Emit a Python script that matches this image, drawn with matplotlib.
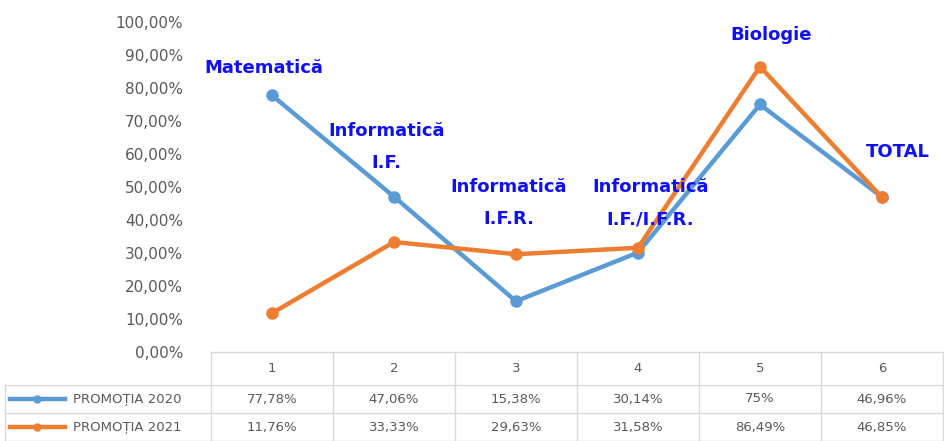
import matplotlib.pyplot as plt
import numpy as np

categories = [1, 2, 3, 4, 5, 6]
promotia_2020 = [77.78, 47.06, 15.38, 30.14, 75.00, 46.96]
promotia_2021 = [11.76, 33.33, 29.63, 31.58, 86.49, 46.85]
labels_2020 = ["77,78%", "47,06%", "15,38%", "30,14%", "75%", "46,96%"]
labels_2021 = ["11,76%", "33,33%", "29,63%", "31,58%", "86,49%", "46,85%"]
series_names = ["PROMOȚIA 2020", "PROMOȚIA 2021"]
subjects = ["Matematică", "Informatică\nI.F.", "Informatică\nI.F.R.",
            "Informatică\nI.F./I.F.R.", "Biologie", "TOTAL"]
# label placement (category offset, height in %)
subject_dx = [-0.07, -0.06, -0.06, 0.10, 0.09, 0.13]
subject_y = [86, 62, 45, 45, 96, 60.5]

blue = "#5B9BD5"
orange = "#ED7D31"
grey = "#595959"
line_c = "#D9D9D9"

plt.rcParams['font.family'] = ['Liberation Sans Narrow', 'DejaVu Sans']

W, H = 945, 441
fig = plt.figure(figsize=(W / 100, H / 100), dpi=100)

# plot area: x 211..943 px, y 22..352 px
ax = fig.add_axes([211 / W, (H - 352) / H, 732 / W, 330 / H])
x = np.array(categories)
ax.plot(x, promotia_2020, color=blue, lw=3.2, marker="o", ms=8, solid_capstyle="round")
ax.plot(x, promotia_2021, color=orange, lw=3.2, marker="o", ms=8, solid_capstyle="round")
for xi, dx, txt, yi in zip(x, subject_dx, subjects, subject_y):
    ax.text(xi + dx, yi, txt, color="#1010F0", fontweight="bold", fontsize=13,
            ha="center", va="center", linespacing=2.0, family="DejaVu Sans")
ax.set_xlim(0.5, 6.5)
ax.set_ylim(0, 100)
ax.set_yticks(np.arange(0, 101, 10))
ax.set_yticklabels([f"{v},00%" for v in range(0, 101, 10)], color=grey, fontsize=11)
ax.tick_params(axis="y", length=0, pad=20)
ax.set_xticks([])
for s in ax.spines.values():
    s.set_visible(False)

# data table below: rows at 352..385, 385..413, 413..441 px
tab = fig.add_axes([211 / W, 0, 732 / W, 89 / H])
tab.set_xlim(0.5, 6.5)
tab.set_ylim(89, 0)
tab.axis("off")
left = 0.5 - 206 / 122
tab.plot([0.5, 6.5], [0, 0], color=line_c, lw=1, clip_on=False)
for yb in (33, 61, 88.5):
    tab.plot([left, 6.5], [yb, yb], color=line_c, lw=1, clip_on=False)
tab.plot([0.5, 0.5], [0, 89], color=line_c, lw=1, clip_on=False)
tab.plot([left, left], [33, 89], color=line_c, lw=1, clip_on=False)
for xb in np.arange(1.5, 7, 1):
    tab.plot([xb, xb], [0, 89], color=line_c, lw=1, clip_on=False)
for xi in x:
    tab.text(xi, 17, str(xi), ha="center", va="center", color=grey, fontsize=9.5)
for row_y, vals, name, col in ((47, labels_2020, series_names[0], blue),
                              (75, labels_2021, series_names[1], orange)):
    for xi, v in zip(x, vals):
        tab.text(xi, row_y, v, ha="center", va="center", color=grey, fontsize=9.5)
    kx = left + 5 / 122
    tab.plot([kx, kx + 55 / 122], [row_y, row_y], color=col, lw=3.2, clip_on=False)
    tab.plot([kx + 27 / 122], [row_y], color=col, marker="o", ms=5, clip_on=False)
    tab.text(kx + 63 / 122, row_y, name, ha="left", va="center", color=grey, fontsize=9.5)

fig.savefig("out.png", dpi=100)
